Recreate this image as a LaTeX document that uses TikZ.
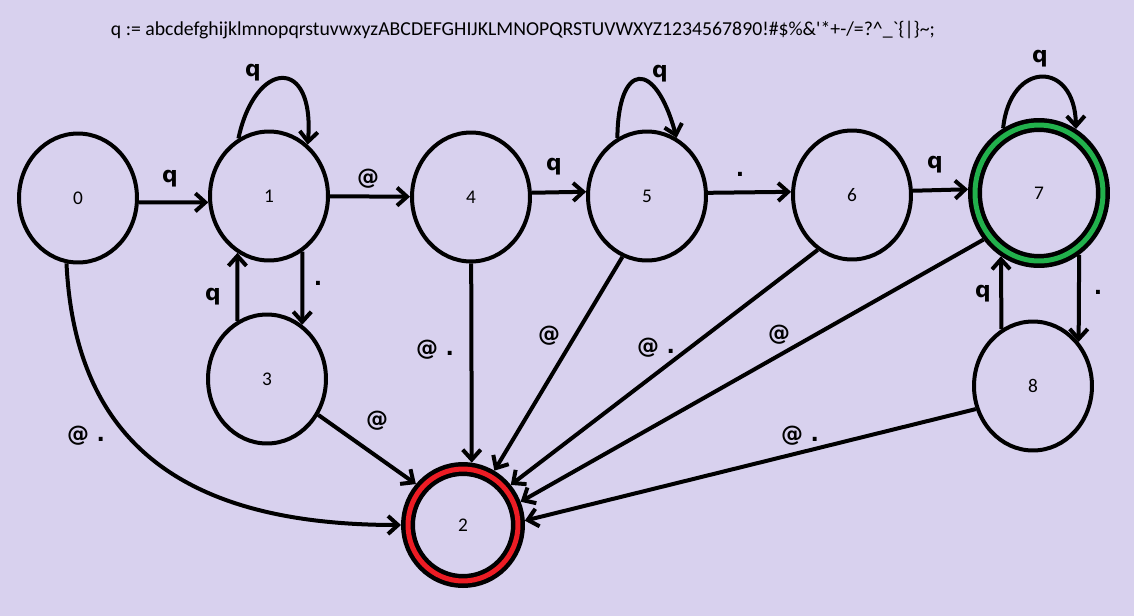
\documentclass[tikz,border=0pt]{standalone}
\usepackage{fontspec}
\setmainfont{Carlito}
\newfontfamily\edgefont{DejaVu Sans}
\usepackage{tikz}
\usetikzlibrary{positioning,arrows.meta,shapes.geometric}
\definecolor{paintbg}{RGB}{216,209,238}
\definecolor{paintred}{RGB}{237,28,36}
\definecolor{paintgreen}{RGB}{34,177,76}

\begin{document}
\begin{tikzpicture}[x=0.02cm, y=-0.02cm,
  state/.style={ellipse, draw, line width=0.08cm, minimum width=2.36cm,
    minimum height=2.58cm, inner sep=0pt, font=\fontsize{11}{13}\selectfont},
  final/.style={state, line width=0.09cm, double distance=0.1cm, outer sep=0.14cm},
  arr/.style={line width=0.08cm, -{Straight Barb[length=0.2cm,width=0.36cm]}},
  lbl/.style={anchor=base, font=\edgefont\bfseries\fontsize{12.5}{15}\selectfont}]
\path[use as bounding box, fill=paintbg] (0,0) rectangle (1134,616);
% alphabet line
\node[font=\fontsize{11.25}{13}\selectfont] (alphabet) at (523,30)
  {q := abcdefghijklmnopqrstuvwxyzABCDEFGHIJKLMNOPQRSTUVWXYZ1234567890!\#\$\%\&\textquotesingle*+-/=?\textasciicircum\_\textasciigrave\{\textbar\}\textasciitilde;};
% states
\node[state] (n0) at (78,198) {0};
\node[state] (n1) at (269,196) {1};
\node[state] (n3) at (267,379) {3};
\node[state] (n4) at (471,197) {4};
\node[state] (n5) at (647,196) {5};
\node[state] (n6) at (852,195) {6};
\node[final, double=paintgreen, minimum width=2.56cm, minimum height=2.72cm] (n7) at (1039,193) {7};
\node[state] (n8) at (1033,386) {8};
\node[final, double=paintred, minimum width=2.2cm, minimum height=2.24cm] (n2) at (463,525) {2};
% top row
\draw[arr] (n0.-4) -- (n1.186);
\draw[arr] (n1) -- (n4);
\draw[arr] (n4.4) -- (n5.176);
\draw[arr] (n5.3) -- (n6.177);
\draw[arr] (n6.4) -- (n7.177);
% self loops
\draw[arr] (n1.118) .. controls (255,60) and (315,55) .. (n1.53);
\draw[arr] (n5.117) .. controls (618,62) and (655,58) .. (n5.63);
\draw[arr] (n7.119) .. controls (1010,60) and (1075,60) .. (n7.60);
% back and forth
\draw[arr] (n1.-59) -- (n3.57);
\draw[arr] (n3.117) -- (n1.241);
\draw[arr] (n7.-57) -- (n8.44);
\draw[arr] (n8.119) -- (n7.239);
% into the error state
\draw[arr] (n0.260) .. controls (75,440) and (180,525) .. (n2);
\draw[arr] (n3.-35) -- (n2.139);
\draw[arr] (n4) -- (n2.82);
\draw[arr] (n5.248) -- (n2.60);
\draw[arr] (n6.238) -- (n2.40);
\draw[arr] (n7.220) -- (n2.22);
\draw[arr] (n8.202) -- (n2.4);
% labels
\node[lbl] (l01) at (170,182) {q};
\node[lbl] (l11) at (253,76) {q};
\node[lbl] (l14) at (368,184) {@};
\node[lbl] (l45) at (554,170) {q};
\node[lbl] (l55) at (660,77) {q};
\node[lbl] (l56) at (740,176) {.};
\node[lbl] (l67) at (935,168) {q};
\node[lbl] (l77) at (1040,62) {q};
\node[lbl] (l13) at (318,285) {.};
\node[lbl] (l31) at (213,300) {q};
\node[lbl] (l78) at (1098,294) {.};
\node[lbl] (l87) at (983,297) {q};
\node[lbl] (l02) at (86,441) {@ .};
\node[lbl] (l32) at (377,426) {@};
\node[lbl] (l42) at (435,355) {@ .};
\node[lbl] (l52) at (549,341) {@};
\node[lbl] (l62) at (656,353) {@ .};
\node[lbl] (l72) at (779,340) {@};
\node[lbl] (l82) at (800,441) {@ .};
\end{tikzpicture}
\end{document}
